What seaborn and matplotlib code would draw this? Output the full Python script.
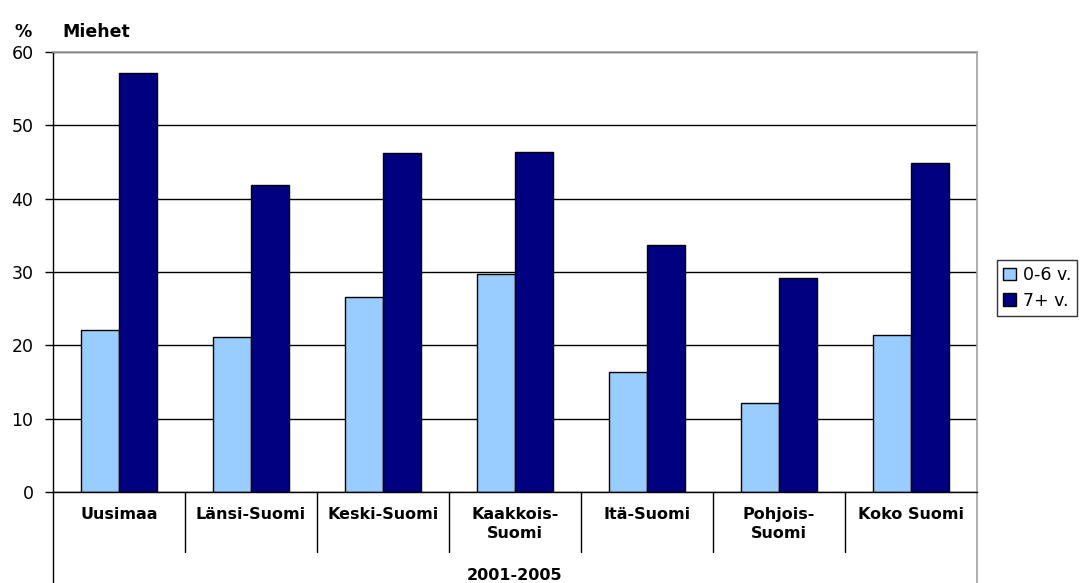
import numpy as np
import pandas as pd
import seaborn as sns
import matplotlib.pyplot as plt

# data
regions = ["Uusimaa", "Länsi-Suomi", "Keski-Suomi", "Kaakkois-\nSuomi",
           "Itä-Suomi", "Pohjois-\nSuomi", "Koko Suomi"]
groups = ["0-6 v.", "7+ v."]
young = [22.1, 21.1, 26.6, 29.7, 16.3, 12.2, 21.4]
older = [57.1, 41.9, 46.2, 46.4, 33.7, 29.2, 44.8]
yticks = [0, 10, 20, 30, 40, 50, 60]

df = pd.DataFrame({
    "alue": regions * 2,
    "ryhma": [groups[0]] * len(regions) + [groups[1]] * len(regions),
    "osuus": young + older,
})

sns.set_style("white")
plt.rcParams['font.family'] = ['DejaVu Sans']
plt.rcParams['text.color'] = 'black'
plt.rcParams['xtick.color'] = 'black'
plt.rcParams['ytick.color'] = 'black'

fig = plt.figure(figsize=(10.8, 5.83), dpi=100)
ax = fig.add_axes([53 / 1080, 1 - 492 / 583, (977 - 53) / 1080, (492 - 52) / 583])

sns.barplot(data=df, x="alue", y="osuus", hue="ryhma", order=regions,
            hue_order=groups, palette=["#99CCFF", "#000080"],
            width=0.58, edgecolor="black", linewidth=1, errorbar=None,
            saturation=1, ax=ax, legend=False)

ax.set_xlim(-0.5, len(regions) - 0.5)
ax.set_ylim(0, 60)
ax.set_yticks(yticks)
ax.set_yticklabels([str(v) for v in yticks], fontsize=12.5)
ax.yaxis.grid(True, color="black", linewidth=1)
ax.set_axisbelow(True)
ax.tick_params(axis="y", direction="out", length=6, width=1, color="black",
               labelcolor="black", pad=8, left=True)
ax.tick_params(axis="x", length=0, pad=11, labelcolor="black")
ax.set_xticks(range(len(regions)))
ax.set_xticklabels(regions, fontsize=11.5, fontweight="bold", linespacing=1.3)
ax.set_xlabel("")
ax.set_ylabel("")

for side in ["top", "right"]:
    ax.spines[side].set_color("#A0A0A0")
    ax.spines[side].set_linewidth(1.2)
for side in ["left", "bottom"]:
    ax.spines[side].set_color("black")
    ax.spines[side].set_linewidth(1)

# category separators below the axis
trans = ax.get_xaxis_transform()
for xpos in np.arange(0.5, len(regions) - 1, 1.0):
    ax.plot([xpos, xpos], [0, -0.136], transform=trans, color="black",
            linewidth=1, clip_on=False)
ax.plot([-0.5, -0.5], [0, -0.21], transform=trans, color="black",
        linewidth=1, clip_on=False)
ax.plot([len(regions) - 0.5] * 2, [0, -0.21], transform=trans,
        color="#A0A0A0", linewidth=1.2, clip_on=False)

ax.text(0.5, -0.19, "2001-2005", transform=ax.transAxes, ha="center",
        va="center", fontsize=11.5, fontweight="bold", color="black")

fig.text(23 / 1080, 1 - 32 / 583, "%", fontsize=12.5, fontweight="bold",
         va="center", ha="center", color="black")
fig.text(62 / 1080, 1 - 32 / 583, "Miehet", fontsize=12.5, fontweight="bold",
         va="center", color="black")

handles = [plt.Rectangle((0, 0), 1, 1, facecolor=c, edgecolor="black", linewidth=1)
           for c in ["#99CCFF", "#000080"]]
leg = fig.legend(handles, groups, loc="upper left",
                 bbox_to_anchor=(997 / 1080, 1 - 260 / 583),
                 fontsize=12.5, frameon=True, fancybox=False,
                 handlelength=0.75, handleheight=0.75, handletextpad=0.4,
                 borderpad=0.35, labelspacing=0.45, borderaxespad=0)
leg.get_frame().set_edgecolor("black")
leg.get_frame().set_linewidth(1)
for t in leg.get_texts():
    t.set_color("black")

fig.savefig("out.png", dpi=100)
